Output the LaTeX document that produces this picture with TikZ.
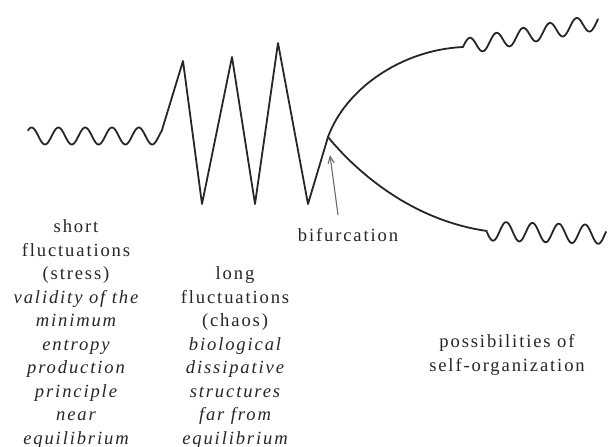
\documentclass[tikz,border=0pt]{standalone}
\usepackage{fontspec}
\setmainfont{Liberation Serif}[LetterSpace=10]
\usetikzlibrary{arrows.meta}
\definecolor{ink}{HTML}{262626}
\definecolor{arrowgray}{HTML}{6A6E72}
\begin{document}
\begin{tikzpicture}[x=1pt,y=-1pt,
  curve/.style={draw=ink,line width=1.8pt,line join=round,line cap=round},
  lbl/.style={align=center,inner sep=0pt,text=ink,font=\fontsize{18.6}{23.5}\selectfont},
  pointer/.style={draw=arrowgray,line width=1.1pt,-{Straight Barb[length=7pt,width=6pt]}}]
\useasboundingbox (0,0) rectangle (608,447);
% key points
\coordinate (ws) at (162,130);
\coordinate (p1) at (183,61);
\coordinate (t1) at (202,204);
\coordinate (p2) at (232,57);
\coordinate (t2) at (255,204);
\coordinate (p3) at (278,43);
\coordinate (t3) at (308,204);
\coordinate (bif) at (328,137);
\coordinate (ue) at (463,47);
\coordinate (le) at (487,231);
\coordinate (tail) at (338,215);
\coordinate (tip) at (330,155);
% left wave
\draw[curve] plot[domain=28:162,samples=120,smooth] (\x,{136+8.5*cos(13.4328*(\x-45))});
% zigzag
\draw[curve] (ws) -- (p1) -- (t1) -- (p2) -- (t2) -- (p3) -- (t3) -- (bif);
% branches
\draw[curve] (bif) .. controls (345,90) and (400,50) .. (ue);
\draw[curve] (bif) .. controls (355,170) and (410,220) .. (le);
% right waves
\draw[curve] plot[domain=463:598,samples=120,smooth] (\x,{42-0.185*(\x-490)+8*cos(13.4831*(\x-483))});
\draw[curve] plot[domain=487:606,samples=110,smooth] (\x,{231+0.03*(\x-487)+9.5*cos(13.6882*(\x-493))});
% arrow
\draw[pointer] (tail) -- (tip);
% labels
\node[lbl,anchor=base] (short) at (76,444) {short\\fluctuations\\(stress)\\\itshape validity of the\\\itshape minimum\\\itshape entropy\\\itshape production\\\itshape principle\\\itshape near\\\itshape equilibrium};
\node[lbl,anchor=base] (long) at (235,444) {long\\fluctuations\\(chaos)\\\itshape biological\\\itshape dissipative\\\itshape structures\\\itshape far from\\\itshape equilibrium};
\node[lbl,anchor=base] (bifl) at (348,241) {bifurcation};
\node[lbl,anchor=base] (self) at (507,371) {possibilities of\\self-organization};
\end{tikzpicture}
\end{document}
